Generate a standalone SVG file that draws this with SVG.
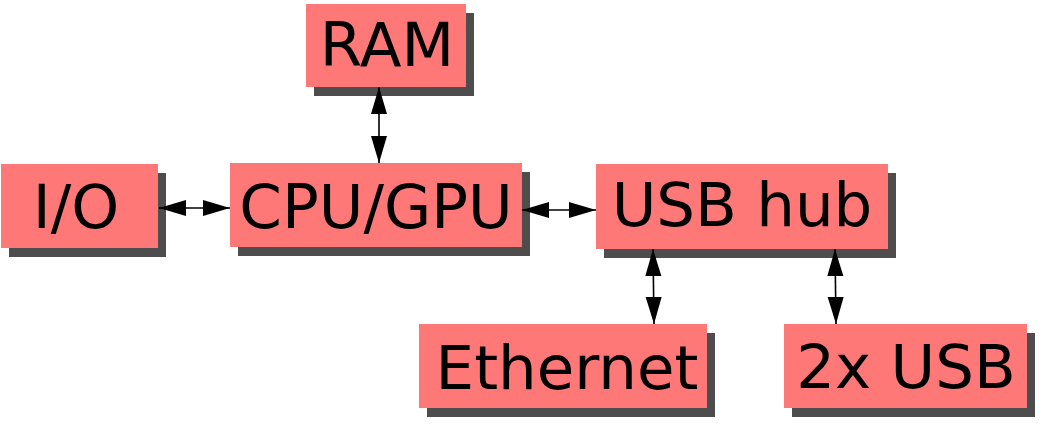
<svg xmlns="http://www.w3.org/2000/svg" width="1042" height="432" viewBox="0 0 1042 432">
<style>
.box{fill:#ff7878}
.sh{fill:#4d4d4d}
.lbl{font-family:"DejaVu Sans",sans-serif;font-size:61px;fill:#000;text-anchor:middle}
.conn{stroke:#000;stroke-width:1.6;fill:none;marker-start:url(#ah);marker-end:url(#ah)}
</style>
<defs>
<marker id="ah" markerUnits="userSpaceOnUse" markerWidth="27" markerHeight="16" refX="27" refY="8" orient="auto-start-reverse" viewBox="0 0 27 16" overflow="visible">
<path d="M0,0 L27,8 L0,16 z" fill="#000"/>
</marker>
</defs>
<rect width="1042" height="432" fill="#fff"/>
<g id="ram"><rect class="sh" x="314" y="13" width="160" height="83"/><rect class="box" x="306" y="4" width="160" height="83"/><text class="lbl" x="387" y="66">RAM</text></g>
<g id="io"><rect class="sh" x="9" y="173" width="157" height="84"/><rect class="box" x="1" y="164" width="157" height="84"/><text class="lbl" x="76" y="228">I/O</text></g>
<g id="cpu"><rect class="sh" x="238" y="172" width="292" height="84"/><rect class="box" x="230" y="163" width="292" height="84"/><text class="lbl" x="376" y="228">CPU/GPU</text></g>
<g id="usbhub"><rect class="sh" x="604" y="173" width="292" height="85"/><rect class="box" x="596" y="164" width="292" height="85"/><text class="lbl" x="742" y="226">USB hub</text></g>
<g id="ethernet"><rect class="sh" x="427" y="333" width="288" height="84"/><rect class="box" x="419" y="324" width="288" height="84"/><text class="lbl" x="567" y="389">Ethernet</text></g>
<g id="usb2"><rect class="sh" x="792" y="333" width="243" height="84"/><rect class="box" x="784" y="324" width="243" height="84"/><text class="lbl" x="906" y="388">2x USB</text></g>
<g id="connectors">
<line class="conn" x1="379" y1="87" x2="379" y2="163"/>
<line class="conn" x1="159" y1="208" x2="230" y2="208"/>
<line class="conn" x1="522" y1="210" x2="596" y2="210"/>
<line class="conn" x1="653" y1="249" x2="654" y2="324"/>
<line class="conn" x1="835" y1="249" x2="836" y2="324"/>
</g>
</svg>
